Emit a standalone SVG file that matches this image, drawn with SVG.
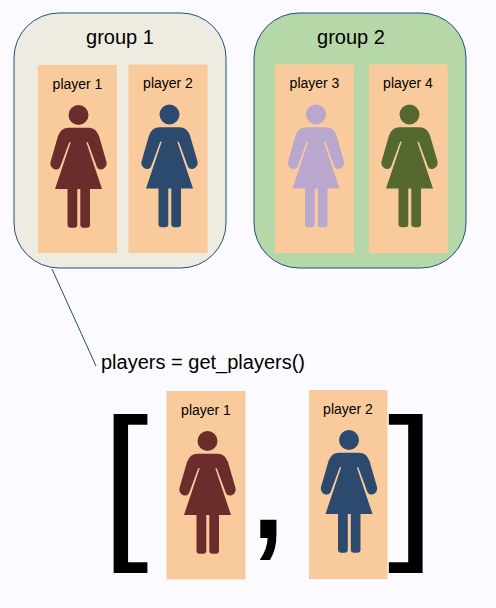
<svg xmlns="http://www.w3.org/2000/svg" width="496" height="608" viewBox="0 0 496 608">
<style>
text{font-family:"Liberation Sans",Arial,sans-serif;fill:#000}
.group{stroke:#1f4e80;stroke-width:1}
.card{fill:#f9cb9c}
.plabel{font-size:14px;text-anchor:middle}
.glabel{font-size:20px;text-anchor:middle}
.big{font-size:170px;text-anchor:middle}
.conn{fill:none;stroke:#1f4e80;stroke-width:1}
</style>
<defs>
<g id="person">
<circle cx="0" cy="0" r="10"/>
<path d="M-10,12.7H10Q17.5,12.7 20.5,21L28,47C29.5,53.5 20,58 18,51L9.3,27.3L7.8,27.3L23.5,74H11.5V109.5Q11.5,112.7 8.3,112.7H5Q1.8,112.7 1.8,109.5V74H-1.2V109.5Q-1.2,112.7 -4.4,112.7H-7.8Q-11,112.7 -11,109.5V74H-23.5L-7.8,27.3L-9.3,27.3L-18,51C-20,58 -29.5,53.5 -28,47L-20.5,21Q-17.5,12.7 -10,12.7Z"/>
</g>
</defs>
<rect width="496" height="608" fill="#fbfbff"/>
<g id="connectors"><path class="conn" d="M52,269L96,366"/></g>
<g id="group1"><rect class="group" x="14" y="13" width="212" height="255" rx="45" ry="45" fill="#eeebe0"/><text class="glabel" x="120" y="44">group 1</text></g>
<g id="group2"><rect class="group" x="254" y="13" width="212" height="255" rx="45" ry="45" fill="#b6d7a8"/><text class="glabel" x="351" y="44">group 2</text></g>
<g id="g1-player1"><rect class="card" x="38" y="65" width="79" height="188"/><text class="plabel" x="77.5" y="89">player 1</text><use href="#person" x="78.5" y="115" fill="#6b2c2c"/></g>
<g id="g1-player2"><rect class="card" x="128.5" y="64.5" width="79" height="188.5"/><text class="plabel" x="168" y="88">player 2</text><use href="#person" x="169.5" y="114.5" fill="#2b4a6e"/></g>
<g id="g2-player3"><rect class="card" x="275" y="64.5" width="79" height="188.5"/><text class="plabel" x="314.5" y="88">player 3</text><use href="#person" x="316" y="114.5" fill="#b9a7cd"/></g>
<g id="g2-player4"><rect class="card" x="369" y="64.5" width="78.5" height="188.5"/><text class="plabel" x="408" y="88">player 4</text><use href="#person" x="409.5" y="114.5" fill="#55682f"/></g>
<g id="code-label"><text x="101" y="369" font-size="20">players = get_players()</text></g>
<g id="list-brackets"><text class="big" x="125" y="537.5">[</text><text class="big" x="268" y="537.5">,</text><text class="big" x="411" y="537.5">]</text></g>
<g id="list-player1"><rect class="card" x="166.5" y="391" width="79" height="188.5"/><text class="plabel" x="206" y="415">player 1</text><use href="#person" x="207.5" y="441" fill="#6b2c2c"/></g>
<g id="list-player2"><rect class="card" x="309" y="390" width="78.5" height="189"/><text class="plabel" x="348" y="414">player 2</text><use href="#person" x="349" y="440" fill="#2b4a6e"/></g>
</svg>
